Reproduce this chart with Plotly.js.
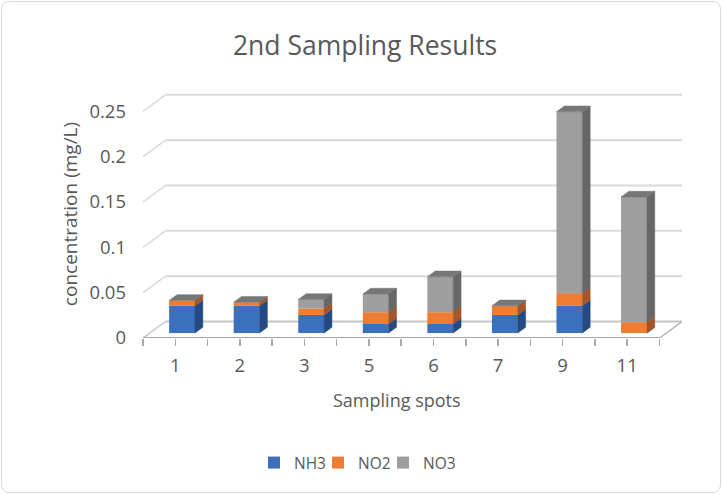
<!DOCTYPE html>
<html>
<head>
<meta charset="utf-8">
<script src="https://cdn.plot.ly/plotly-3.0.1.min.js"></script>
<style>
  html, body { margin: 0; padding: 0; background: #ffffff; }
  #wrap { position: relative; width: 723px; height: 495px; }
  #chart { width: 723px; height: 495px; }
  #frame {
    position: absolute; left: 1px; top: 1px; width: 718px; height: 490px;
    border: 1px solid #d9d9d9; border-radius: 8px; pointer-events: none;
  }
</style>
</head>
<body>
<div id="wrap">
  <div id="chart"></div>
  <div id="frame"></div>
</div>
<script>
// Sampling spots and measured concentrations (mg/L)
const categories = ['1', '2', '3', '5', '6', '7', '9', '11'];
const nh3 = [0.03, 0.03, 0.02, 0.01, 0.01, 0.02, 0.03, 0];
const no2 = [0.006, 0.004, 0.007, 0.013, 0.013, 0.01, 0.014, 0.012];
const no3 = [0, 0, 0.01, 0.02, 0.039, 0, 0.2, 0.138];
const seriesNames = ['NH3', 'NO2', 'NO3'];
const yTickVals = [0, 0.05, 0.1, 0.15, 0.2, 0.25];
const yTickText = ['0', '0.05', '0.1', '0.15', '0.2', '0.25'];

// Oblique projection: depth 1 shifts a point by DX categories right and DY units up
const DX = 0.349;
const DY = 0.0182;
const D0 = 0.30;   // front plane of the columns
const D1 = 0.65;   // back plane of the columns
const W = 0.40;    // column width in category units
const Y_MAX = 0.2735;

const colors = {
  front: ['#3b70bc', '#ee7d31', '#9e9e9e'],
  side:  ['#244a83', '#a4552a', '#676767'],
  top:   ['#2f5c9e', '#c8652a', '#777777']
};

const series = [nh3, no2, no3];
const idx = categories.map((_, i) => i);
const legendIds = ['legend', 'legend2', 'legend3'];

// cumulative bases for stacking
const bases = [];
let running = idx.map(() => 0);
series.forEach(vals => {
  bases.push(running.slice());
  running = running.map((b, i) => b + vals[i]);
});
const totals = running;

const traces = [];

// front faces: real bar traces, one legend entry each
series.forEach((vals, k) => {
  traces.push({
    type: 'bar',
    name: seriesNames[k],
    legend: legendIds[k],
    x: idx,
    y: vals,
    base: bases[k].map(b => b + D0 * DY),
    width: W,
    offset: -W / 2 + D0 * DX,
    marker: { color: colors.front[k], line: { width: 0 } },
    hoverinfo: 'skip'
  });
});

// right-hand side faces of each stacked segment
series.forEach((vals, k) => {
  const xs = [], ys = [];
  idx.forEach(i => {
    const b = bases[k][i], t = b + vals[i];
    const xr0 = i + W / 2 + D0 * DX, xr1 = i + W / 2 + D1 * DX;
    xs.push(xr0, xr1, xr1, xr0, xr0, null);
    ys.push(b + D0 * DY, b + D1 * DY, t + D1 * DY, t + D0 * DY, b + D0 * DY, null);
  });
  traces.push({
    type: 'scatter', mode: 'lines', x: xs, y: ys, fill: 'toself',
    fillcolor: colors.side[k], line: { width: 0.5, color: colors.side[k] },
    showlegend: false, hoverinfo: 'skip'
  });
});

// top caps, coloured by the uppermost series
(function () {
  const k = series.length - 1;
  const xs = [], ys = [];
  idx.forEach(i => {
    const t = totals[i];
    const xl0 = i - W / 2 + D0 * DX, xr0 = i + W / 2 + D0 * DX;
    const xl1 = i - W / 2 + D1 * DX, xr1 = i + W / 2 + D1 * DX;
    xs.push(xl0, xr0, xr1, xl1, xl0, null);
    ys.push(t + D0 * DY, t + D0 * DY, t + D1 * DY, t + D1 * DY, t + D0 * DY, null);
  });
  traces.push({
    type: 'scatter', mode: 'lines', x: xs, y: ys, fill: 'toself',
    fillcolor: colors.top[k], line: { width: 0.5, color: colors.top[k] },
    showlegend: false, hoverinfo: 'skip'
  });
})();

// back wall gridlines, left wall connectors and floor outline
const xL = -0.5, xR = categories.length - 0.5;
const shapes = [];
yTickVals.forEach(v => {
  shapes.push({ type: 'line', layer: 'below', xref: 'x', yref: 'y',
    x0: xL + DX, y0: v + DY, x1: xR + DX, y1: v + DY,
    line: { color: v === 0 ? '#c6c6c6' : '#d9d9d9', width: 2 } });
  shapes.push({ type: 'line', layer: 'below', xref: 'x', yref: 'y',
    x0: xL, y0: v, x1: xL + DX, y1: v + DY,
    line: { color: v === 0 ? '#c6c6c6' : '#d9d9d9', width: 1.5 } });
});
shapes.push({ type: 'line', layer: 'below', xref: 'x', yref: 'y',
  x0: xR, y0: 0, x1: xR + DX, y1: DY, line: { color: '#b4b4b4', width: 1.5 } });
shapes.push({ type: 'line', layer: 'below', xref: 'x', yref: 'y',
  x0: xL, y0: 0, x1: xR, y1: 0, line: { color: '#a9a9a9', width: 2 } });

const FONT = 'Open Sans, DejaVu Sans, sans-serif';
const TXT = '#595959';

// one small legend per series, laid out in a row under the chart
function legendAt(px) {
  return {
    orientation: 'h', xref: 'container', yref: 'container',
    x: px / 723, xanchor: 'left', y: 1 - 463 / 495, yanchor: 'middle',
    bgcolor: 'rgba(0,0,0,0)', borderwidth: 0,
    font: { family: FONT, size: 15.5, color: TXT }
  };
}

const layout = {
  width: 723, height: 495,
  margin: { l: 143, r: 41, t: 90, b: 157 },
  paper_bgcolor: '#ffffff', plot_bgcolor: 'rgba(0,0,0,0)',
  font: { family: FONT, color: TXT, size: 15 },
  barmode: 'overlay',
  title: {
    text: '2nd Sampling Results',
    font: { family: FONT, size: 26.5, color: TXT },
    xref: 'container', x: 0.505, xanchor: 'center',
    yref: 'container', y: 0.907, yanchor: 'middle'
  },
  xaxis: {
    range: [xL, xR + DX],
    tickmode: 'array', tickvals: idx, ticktext: categories,
    showgrid: false, zeroline: false, showline: false,
    ticks: 'outside', ticklen: 7, tickwidth: 1.5, tickcolor: '#a9a9a9',
    minor: { tickmode: 'array', tickvals: idx.map(i => i - 0.5).concat([xR]),
             ticks: 'outside', ticklen: 7, tickwidth: 1.5, tickcolor: '#a9a9a9' },
    ticklabelstandoff: 4,
    tickfont: { family: FONT, size: 18.5, color: TXT },
    fixedrange: true
  },
  yaxis: {
    range: [0, Y_MAX],
    tickmode: 'array', tickvals: yTickVals, ticktext: yTickText,
    showgrid: false, zeroline: false, showline: false, ticks: '',
    ticklabelstandoff: 16,
    tickfont: { family: FONT, size: 18.5, color: TXT },
    title: { text: 'concentration (mg/L)', font: { family: FONT, size: 19, color: TXT }, standoff: 6 },
    fixedrange: true
  },
  shapes: shapes,
  annotations: [{
    text: 'Sampling spots', xref: 'paper', yref: 'paper',
    x: (397 - 143) / 539, y: (338 - 400) / 248, xanchor: 'center', yanchor: 'middle',
    showarrow: false, font: { family: FONT, size: 18, color: TXT }
  }],
  legend: legendAt(254),
  legend2: legendAt(318),
  legend3: legendAt(383),
  showlegend: true
};

Plotly.newPlot('chart', traces, layout, { displayModeBar: false, staticPlot: true });
</script>
</body>
</html>
